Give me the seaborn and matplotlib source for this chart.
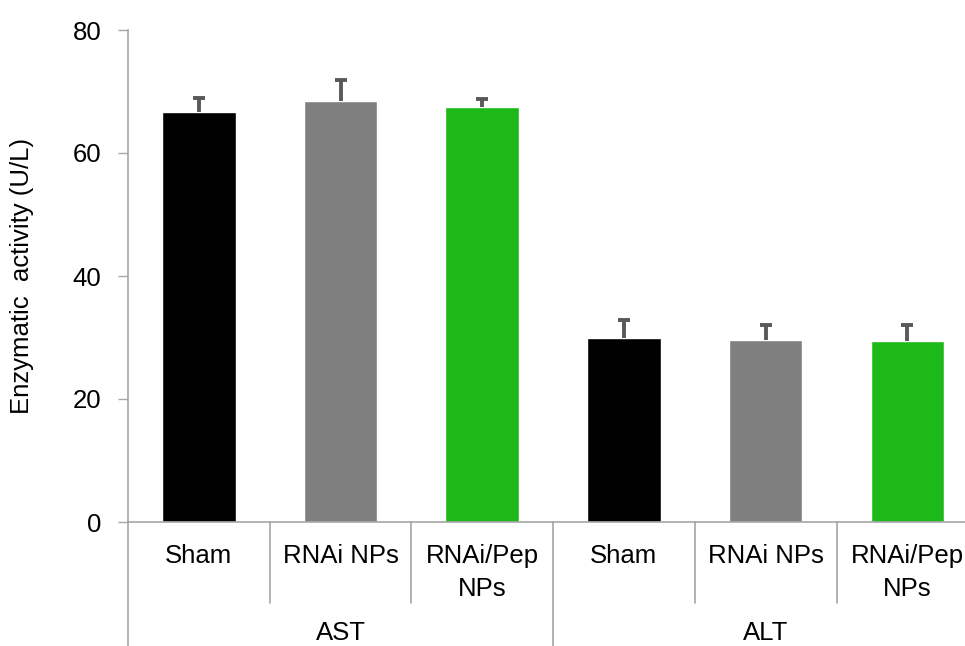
import matplotlib
matplotlib.use('Agg')
import matplotlib.pyplot as plt
import matplotlib.transforms as mtransforms
import seaborn as sns
import pandas as pd

groups = ['AST', 'AST', 'AST', 'ALT', 'ALT', 'ALT']
treatments = ['Sham', 'RNAi NPs', 'RNAi/Pep\nNPs', 'Sham', 'RNAi NPs', 'RNAi/Pep\nNPs']
values = [66.6, 68.5, 67.5, 30.0, 29.6, 29.4]
errors = [2.4, 3.3, 1.2, 2.8, 2.4, 2.6]
group_names = ['AST', 'ALT']
colors = {'Sham': '#000000', 'RNAi NPs': '#7f7f7f', 'RNAi/Pep\nNPs': '#1db918'}

sns.set_style('white')
plt.rcParams['font.family'] = ['Liberation Sans', 'DejaVu Sans']
plt.rcParams['text.color'] = 'black'
plt.rcParams['axes.labelcolor'] = 'black'
plt.rcParams['xtick.color'] = 'black'
plt.rcParams['ytick.color'] = 'black'

df = pd.DataFrame({
    'slot': [f'{g}_{i}' for i, g in enumerate(groups)],
    'treatment': treatments,
    'value': values,
})

fig = plt.figure(figsize=(9.65, 6.46), dpi=100)
ax = fig.add_axes([128 / 965, 124 / 646, 6 * 141.7 / 965, 492 / 646])

sns.barplot(data=df, x='slot', y='value', hue='treatment', palette=colors,
            dodge=False, width=0.52, saturation=1, legend=False, ax=ax)
eb = ax.errorbar(range(len(values)), values, yerr=[[0] * len(errors), errors],
                 fmt='none', ecolor='#595959', elinewidth=2.8, capsize=4.3, capthick=2.8)
# only the upper cap, like the original
eb[1][0].set_visible(False)

ax.set_ylim(0, 80)
ax.set_xlim(-0.5, 5.5)
ax.set_yticks([0, 20, 40, 60, 80])
ax.set_ylabel('Enzymatic  activity (U/L)', fontsize=18.5, labelpad=28)
ax.set_xlabel('')
ax.set_xticks(range(len(treatments)))
ax.set_xticklabels(treatments, fontsize=18.5, linespacing=1.45)
ax.tick_params(axis='x', length=0, pad=16)
ax.tick_params(axis='y', labelsize=18.5, length=7, width=1, color='#a6a6a6',
               labelcolor='black', direction='out', left=True, pad=12)

for side in ['top', 'right']:
    ax.spines[side].set_visible(False)
for side in ['left', 'bottom']:
    ax.spines[side].set_color('#a6a6a6')
    ax.spines[side].set_linewidth(1.2)

trans = mtransforms.blended_transform_factory(ax.transData, ax.transAxes)
for x in [0.5, 1.5, 3.5, 4.5]:
    ax.plot([x, x], [0, -0.165], transform=trans, color='#a6a6a6', lw=1.2, clip_on=False)
for x in [-0.5, 2.5, 5.5]:
    ax.plot([x, x], [0, -0.27], transform=trans, color='#a6a6a6', lw=1.2, clip_on=False)
for i, g in enumerate(group_names):
    ax.text(1 + 3 * i, -0.226, g, transform=trans, ha='center', va='center', fontsize=18.5)

fig.savefig('out.png', dpi=100)
